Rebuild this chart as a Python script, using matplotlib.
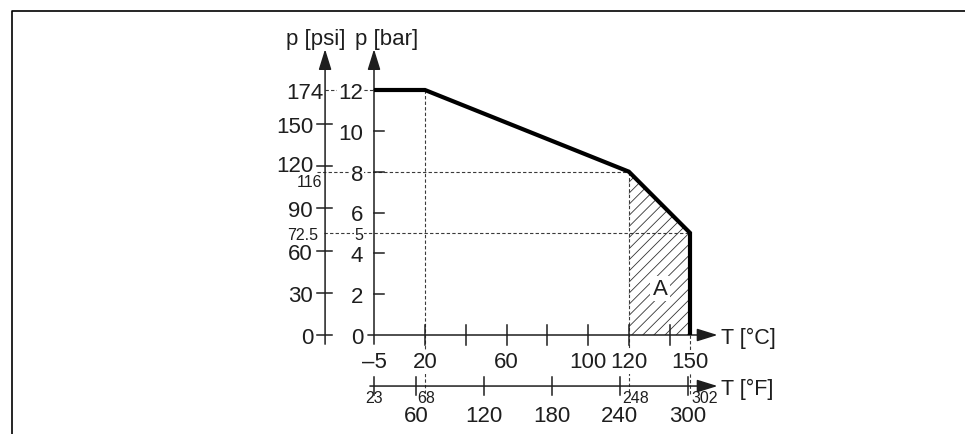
import numpy as np
import matplotlib.pyplot as plt
from matplotlib.patches import Polygon
from matplotlib.lines import Line2D

plt.rcParams['font.family'] = ['Liberation Sans', 'DejaVu Sans']
plt.rcParams['hatch.linewidth'] = 0.6

# data
curve_T = [-5, 20, 120, 150, 150]
curve_p = [12, 12, 8, 5, 0]
area_T = [120, 120, 150, 150]
area_p = [0, 8, 5, 0]
bar_ticks = [2, 4, 6, 8, 10, 12]
bar_labels = [0, 2, 4, 6, 8, 10, 12]
psi_ticks = [0, 30, 60, 90, 120, 150]
psi_small = [116, 72.5]
c_ticks = [20, 40, 60, 80, 100, 120, 140]
c_labels = [-5, 20, 60, 100, 120, 150]
f_ticks = [23, 60, 120, 180, 240, 300]
f_labels = [60, 120, 180, 240, 300]
f_small = [23, 68, 248, 302]
PSI_PER_BAR = 14.5

def psi2bar(v):
    return np.asarray(v) / PSI_PER_BAR

def f2c(v):
    return (np.asarray(v) - 32) / 1.8

ink = '#1e1e1e'
W, H = 965, 435
fig = plt.figure(figsize=(W / 100, H / 100), dpi=100)
ax = fig.add_axes([0, 0, 1, 1])
ax.axis('off')
# scale: -5 degC at x=374 px, 150 degC at x=690; 0 bar at y=336, 12 bar at y=91
sx = (690 - 374) / 155
sy = (336 - 91) / 12
ax.set_xlim(-5 - 374 / sx, -5 + (W - 374) / sx)
ax.set_ylim((336 - H) / sy, 336 / sy)

x_psi = -29.0
y_f = -2.5
tip_p = 14.0
tip_T = 163.5
big = 16
txt = 15.5
small = 11.5
dash = dict(color='#3a3a3a', lw=0.8, ls=(0, (3, 2)), zorder=1)
wb = dict(boxstyle='square,pad=0.05', fc='white', ec='none')

# frame
fig.add_artist(Line2D([11.5 / W, 11.5 / W, 1], [0, 1 - 11.5 / H, 1 - 11.5 / H],
                      transform=fig.transFigure, color='black', lw=1.2))

# arrow axes
arr = dict(arrowstyle='-|>,head_length=0.9,head_width=0.28', color=ink, lw=1.1,
           shrinkA=0, shrinkB=0, mutation_scale=14)
ax.annotate('', xy=(-5, tip_p), xytext=(-5, -0.45), arrowprops=arr, zorder=3)
ax.annotate('', xy=(x_psi, tip_p), xytext=(x_psi, -0.45), arrowprops=arr, zorder=3)
ax.annotate('', xy=(tip_T, 0), xytext=(-8, 0), arrowprops=arr, zorder=3)
ax.annotate('', xy=(tip_T, y_f), xytext=(-7, y_f), arrowprops=arr, zorder=3)

ax.text(-33.6, 14.5, 'p [psi]', fontsize=big, color=ink, ha='center', va='center')
ax.text(1.2, 14.5, 'p [bar]', fontsize=big, color=ink, ha='center', va='center')
ax.text(tip_T + 1.5, 0, 'T [°C]', fontsize=txt, color=ink, ha='left', va='center_baseline')
ax.text(tip_T + 1.5, y_f, 'T [°F]', fontsize=txt, color=ink, ha='left', va='center_baseline')

# bar axis
for v in bar_ticks:
    ax.plot([-5, -0.1], [v, v], color=ink, lw=1.1, zorder=3)
for v in bar_labels:
    ax.text(-10.3, v, str(v), fontsize=big, color=ink, ha='right',
            va='center_baseline', bbox=wb, zorder=4)
ax.text(-10.3, 5, '5', fontsize=small, color=ink, ha='right',
        va='center_baseline', bbox=wb, zorder=4)

# psi axis
for v, b in zip(psi_ticks, psi2bar(psi_ticks)):
    ax.plot([x_psi - 3.8, x_psi + 3.6], [b, b], color=ink, lw=1.1, zorder=3)
    dy = 0.13 if v == 120 else 0
    ax.text(x_psi - 5.9, b + dy, str(v), fontsize=big, color=ink, ha='right',
            va='center_baseline', bbox=wb, zorder=4)
ax.text(x_psi - 0.8, 12, '174', fontsize=big, color=ink, ha='right',
        va='center_baseline', zorder=4)
ax.text(x_psi - 1.5, psi2bar(116) - 0.42, '116', fontsize=small, color=ink,
        ha='right', va='center_baseline', zorder=4)
ax.text(x_psi - 3.5, psi2bar(72.5), '72.5', fontsize=small, color=ink,
        ha='right', va='center_baseline', zorder=4)

# degC axis
for v in c_ticks:
    ax.plot([v, v], [-0.49, 0.49], color=ink, lw=1.1, zorder=3)
for v in c_labels:
    s = str(v).replace('-', '\u2013')
    ax.text(v, -1.2, s, fontsize=big, color=ink, ha='center',
            va='center_baseline', bbox=wb, zorder=4)

# degF axis
for v in f2c(f_ticks):
    ax.plot([v, v], [y_f - 0.45, y_f + 0.44], color=ink, lw=1.1, zorder=3)
for v, c in zip(f_labels, f2c(f_labels)):
    ax.text(c, -3.8, str(v), fontsize=big, color=ink, ha='center',
            va='center_baseline', zorder=4)
for v, c, dx in zip(f_small, f2c(f_small), [0, -4, -3, 0.5]):
    ax.text(c + dx, -2.97, str(v), fontsize=small, color=ink,
            ha='center' if v == 23 else 'left', va='center_baseline', zorder=4)

# reference dashed lines
ax.plot([x_psi, -5], [12, 12], **dash)
ax.plot([-33, 120], [8, 8], **dash)
ax.plot([-29.5, 150], [5, 5], **dash)
ax.plot([20, 20], [12, -2.95], **dash)
ax.plot([120, 120], [8, -2.95], **dash)
ax.plot([150, 150], [0, -2.95], **dash)

# hatched area A
ax.add_patch(Polygon(np.column_stack([area_T, area_p]), closed=True, fill=False,
                     hatch='///', edgecolor='#333333', lw=0, zorder=2))
ax.text(135.3, 2.4, 'A', fontsize=big, color=ink, ha='center', va='center_baseline',
        bbox=dict(boxstyle='square,pad=0.1', fc='white', ec='none'), zorder=4)

# limit curve
ax.plot(curve_T, curve_p, color='black', lw=3.0, solid_joinstyle='miter',
        solid_capstyle='butt', zorder=5)

fig.savefig('out.png', dpi=100)
